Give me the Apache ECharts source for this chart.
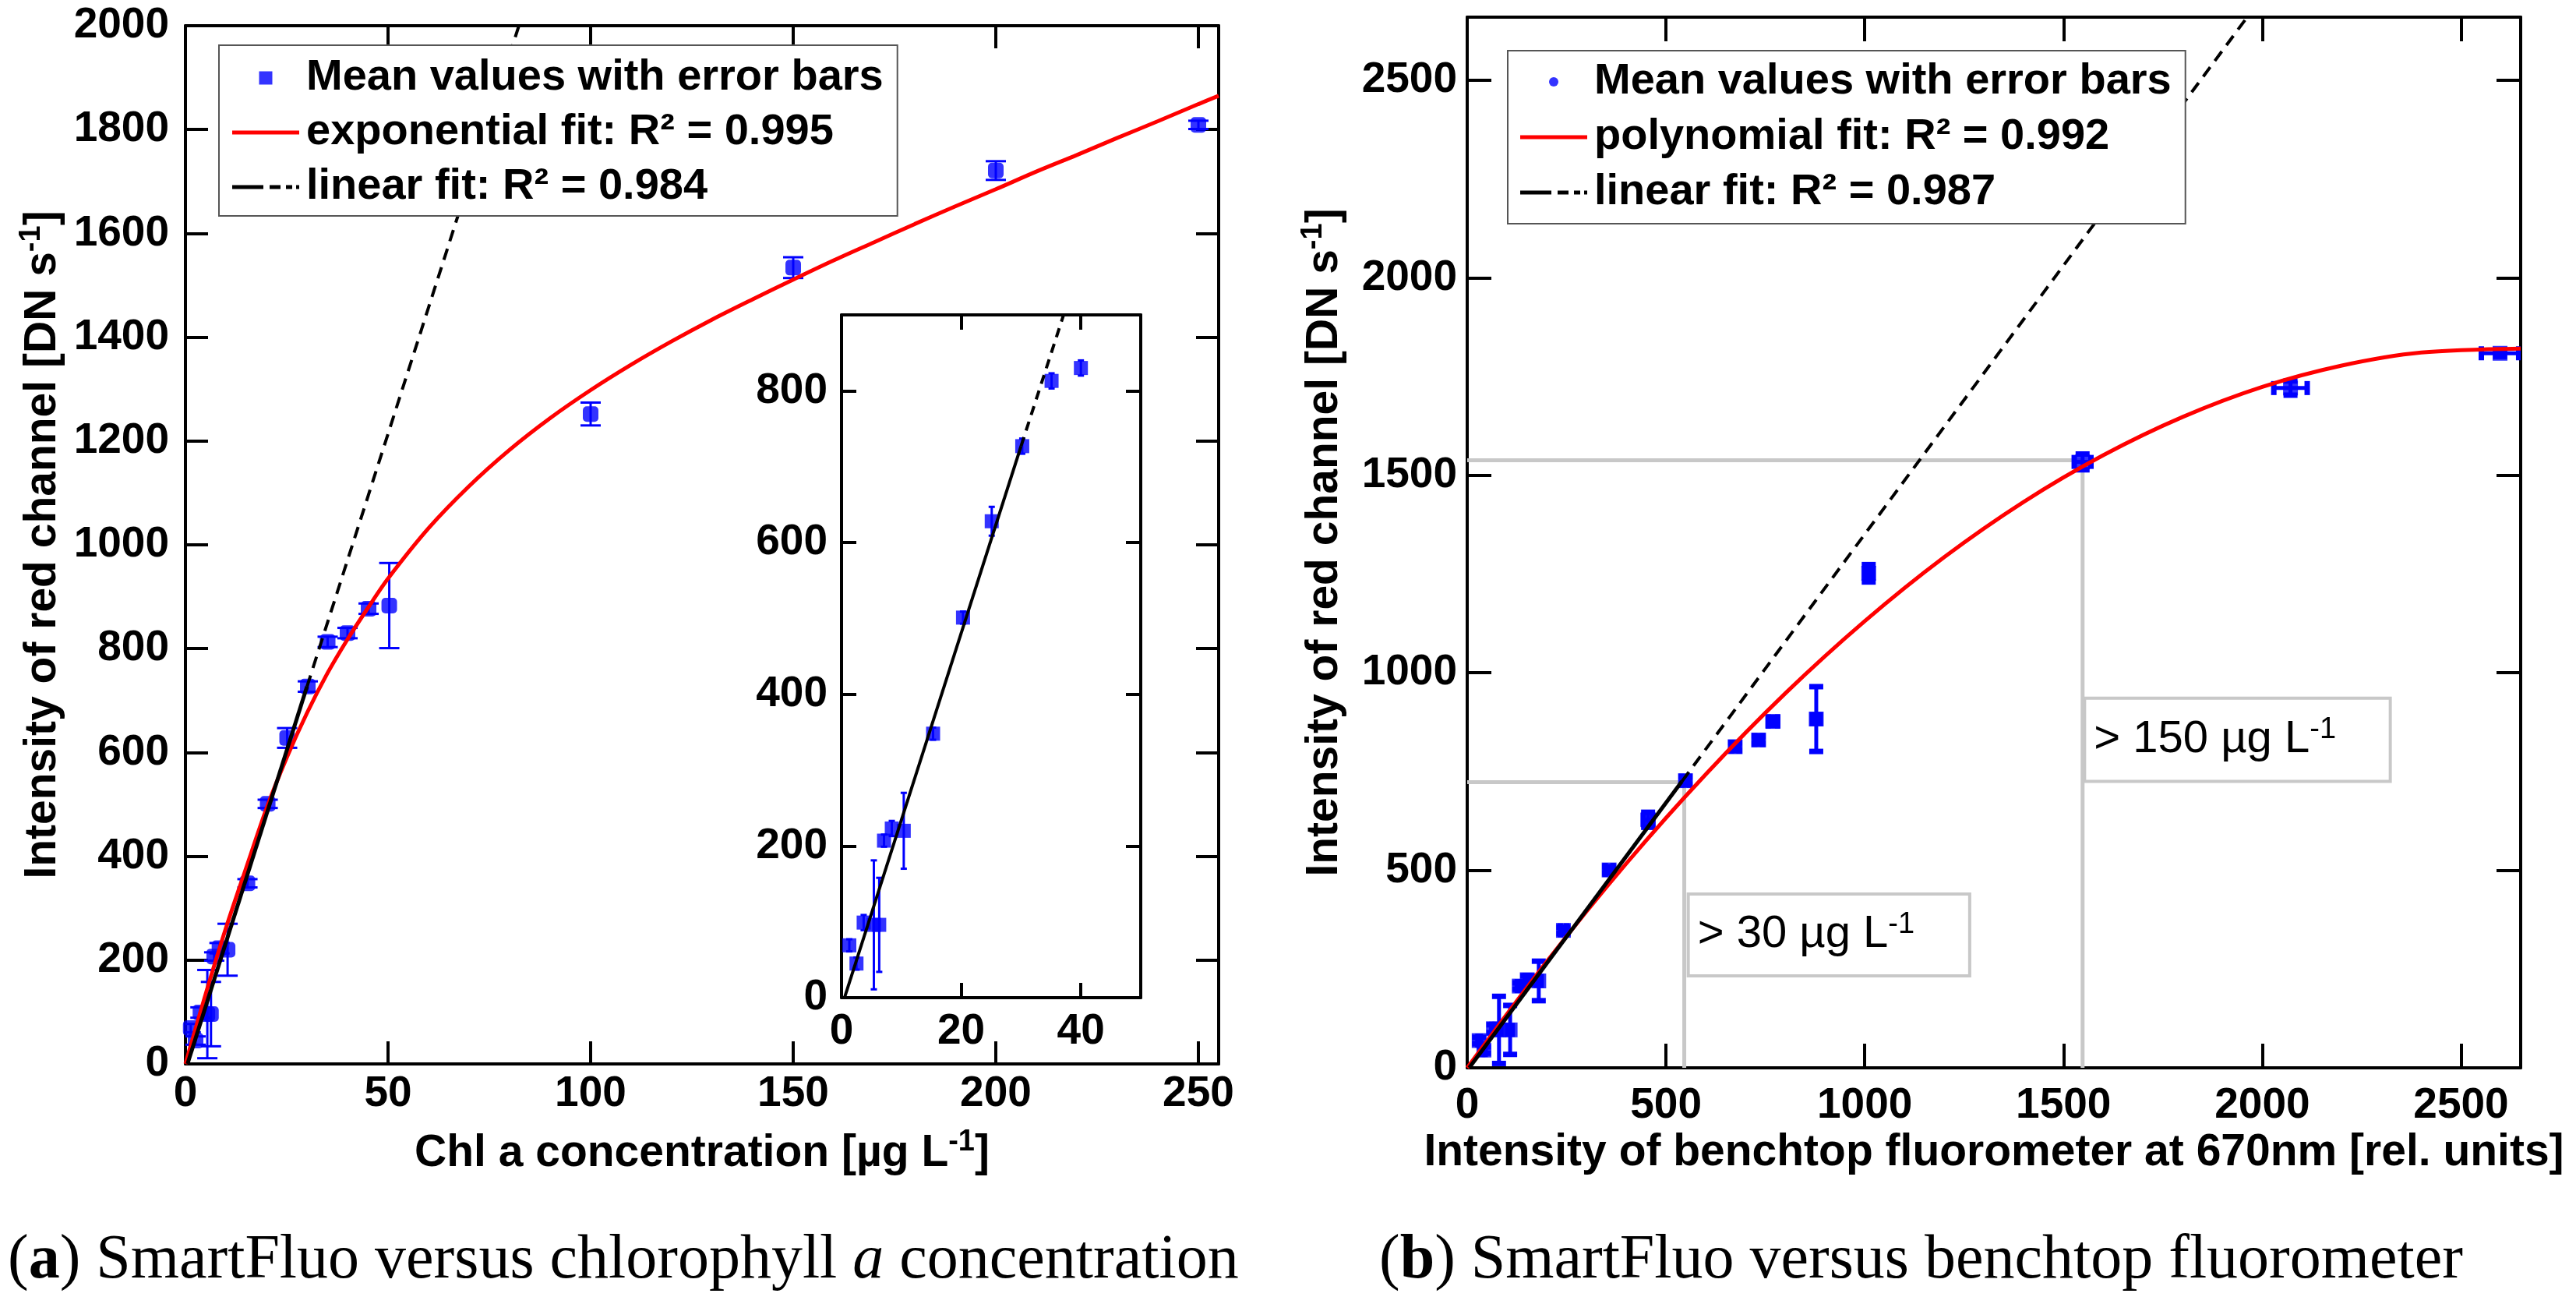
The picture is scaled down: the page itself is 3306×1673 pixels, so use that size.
<!DOCTYPE html>
<html lang="en">
<head>
<meta charset="UTF-8">
<title>SmartFluo calibration</title>
<style>
    * { margin: 0; padding: 0; }
    html, body { width: 100%; height: 100%; background: #fff; }
    #main { width: 3306px; height: 1673px; }
</style>
<script src="https://cdn.jsdelivr.net/npm/echarts/dist/echarts.min.js"></script>
</head>
<body>
<div id="main"></div>
<script>
// Chl a standards [ug/L] and SmartFluo red channel (mean / sd) [DN/s]
var chlConc = [1.3, 2.5, 3.7, 5.4, 6.3, 7.1, 8.4, 10.4, 15.3, 20.3, 25.1, 30.2, 35.1, 40, 45.2, 50.3, 100, 150, 200, 250];
var redMean = [69, 45, 99, 96, 96, 207, 223, 220, 348, 501, 628, 727, 813, 830, 877, 883, 1252, 1534, 1721, 1809];
var redErr  = [8, 8, 10, 85, 62, 8, 10, 50, 8, 8, 19, 10, 10, 10, 10, 82, 22, 20, 18, 8];
// benchtop fluorometer at 670nm for the same samples (value / sd)
var fluoVal = [30, 42, 66, 80, 108, 131, 151, 180, 242, 357, 455, 549, 674, 733, 769, 878, 1010, 1548, 2071, 2598];
var fluoErr = [3, 3, 4, 4, 5, 5, 5, 6, 8, 10, 12, 10, 10, 10, 12, 10, 10, 21, 42, 47];

// fitted curves
var expFitX = [0, 5, 10, 15, 20, 25, 30, 35, 40, 45, 50, 60, 70, 80, 90, 100, 110, 120, 130, 140, 150,
               160, 170, 180, 190, 200, 210, 220, 230, 240, 250, 255];
var expFitY = [0, 135, 262, 378, 492, 590, 676, 752, 818, 878, 935, 1032, 1113, 1183, 1244, 1298, 1347, 1392, 1434, 1473, 1511,
               1548, 1583, 1618, 1652, 1685, 1719, 1751, 1784, 1816, 1849, 1865];
var linFitAX = [0.5, 30, 82.3];   // solid up to 30, dashed beyond
var linFitAY = [0, 727, 2000];
var polyFitX = [0, 200, 400, 600, 800, 1000, 1200, 1400, 1600, 1800, 2000, 2200, 2400, 2650];
var polyFitY = [0, 269, 517, 743, 948, 1131, 1293, 1433, 1551, 1648, 1724, 1778, 1811, 1821];
var linFitBX = [5, 540, 1962];
var linFitBY = [0, 725, 2660];
// threshold guides (30 and 150 ug/L)
var guideX = [546, 1548];
var guideY = [723, 1538];

var legendText = {
    meanA: 'Mean values with error bars',
    expA: 'exponential fit: R\u00b2 = 0.995',
    linA: 'linear fit: R\u00b2 = 0.984',
    meanB: 'Mean values with error bars',
    polyB: 'polynomial fit: R\u00b2 = 0.992',
    linB: 'linear fit: R\u00b2 = 0.987'
};

var font = '"Liberation Sans", Arial, sans-serif';
var blue = '#0000ff';
var supStyle = { fontFamily: font, fontSize: 38, fontWeight: 'bold', color: '#000', verticalAlign: 'top', lineHeight: 38 };
var titleStyle = {
    fontFamily: font, fontSize: 57, fontWeight: 'bold', color: '#000', lineHeight: 66,
    rich: { sup: supStyle }
};

function pairs(xs, ys) {
    return xs.map(function (x, i) { return [x, ys[i]]; });
}

var ptsA = pairs(chlConc, redMean);
var errA = chlConc.map(function (x, i) {
    return [x, redMean[i], redMean[i] - redErr[i], redMean[i] + redErr[i]];
});
var ptsIn = ptsA.filter(function (p) { return p[0] <= 40; });
var errIn = errA.filter(function (p) { return p[0] <= 40; });
var ptsB = pairs(fluoVal, redMean);
var errB = fluoVal.map(function (x, i) {
    return [x, redMean[i], redMean[i] - redErr[i], redMean[i] + redErr[i], x - fluoErr[i], x + fluoErr[i]];
});
var expFit = pairs(expFitX, expFitY);
var linA = pairs(linFitAX, linFitAY);
var polyFit = pairs(polyFitX, polyFitY);
var linB = pairs(linFitBX, linFitBY);

function seg(x1, y1, x2, y2, w) {
    return { type: 'line', shape: { x1: x1, y1: y1, x2: x2, y2: y2 }, style: { stroke: blue, lineWidth: w } };
}

// error bars drawn in data space
function errorBars(capW, stemW, capLw, withX) {
    return function (params, api) {
        var x = api.value(0), y = api.value(1);
        var lo = api.coord([x, api.value(2)]);
        var hi = api.coord([x, api.value(3)]);
        var kids = [
            seg(lo[0], lo[1], hi[0], hi[1], stemW),
            seg(lo[0] - capW / 2, lo[1], lo[0] + capW / 2, lo[1], capLw),
            seg(hi[0] - capW / 2, hi[1], hi[0] + capW / 2, hi[1], capLw)
        ];
        if (withX) {
            var l = api.coord([api.value(4), y]);
            var r = api.coord([api.value(5), y]);
            kids.push(seg(l[0], l[1], r[0], r[1], stemW));
            kids.push(seg(l[0], l[1] - capW / 2, l[0], l[1] + capW / 2, capLw));
            kids.push(seg(r[0], r[1] - capW / 2, r[0], r[1] + capW / 2, capLw));
        }
        return { type: 'group', children: kids };
    };
}

function valAxis(o) {
    return {
        type: 'value', gridIndex: o.grid, position: o.pos,
        min: o.min, max: o.max, interval: o.step,
        name: o.name || '', nameLocation: 'middle', nameGap: o.nameGap || 0,
        nameRotate: o.rot || 0, nameMoveOverlap: false, nameTextStyle: titleStyle,
        axisLine: { show: true, onZero: false, lineStyle: { color: '#000', width: 4 } },
        axisTick: { show: true, inside: true, length: o.tick, lineStyle: { color: '#000', width: 4 } },
        axisLabel: {
            show: !!o.labels, margin: o.margin || 12, color: '#000',
            fontFamily: font, fontSize: 55, fontWeight: 'bold',
            formatter: function (v) { return v % o.step === 0 ? String(v) : ''; }
        },
        splitLine: { show: false }
    };
}

function legendBox(left, top, padding, gap, iconH, markerIcon, names, colors) {
    var lineIcon = 'path://M0,0H86V5H0Z';
    var dashIcon = 'path://M0,0H40V5H0Z M48,0H62V5H48Z M69,0H77V5H69Z M82,0H86V5H82Z';
    var icons = [markerIcon, lineIcon, dashIcon];
    return {
        orient: 'vertical', left: left, top: top, padding: padding, itemGap: gap, z: 20,
        itemWidth: 86, itemHeight: iconH, symbolKeepAspect: true, selectedMode: false,
        backgroundColor: '#fff', borderColor: '#555', borderWidth: 2, borderRadius: 0,
        textStyle: { fontFamily: font, fontSize: 56, fontWeight: 'bold', color: '#000', lineHeight: 60, padding: [0, 0, 0, 4] },
        formatter: function (n) { return legendText[n]; },
        data: names.map(function (n, i) {
            return { name: n, icon: icons[i], itemStyle: { color: colors[i], borderWidth: 0 } };
        })
    };
}

function guideSeries(i, area, text) {
    return {
        type: 'line', name: 'guide' + i, xAxisIndex: 4, yAxisIndex: 4, silent: true,
        symbol: 'none', z: 1,
        lineStyle: { color: '#c8c8c8', width: 5 },
        data: [[0, guideY[i]], [guideX[i], guideY[i]], [guideX[i], 0]],
        markArea: {
            silent: true,
            itemStyle: { color: '#fff', borderColor: '#c8c8c8', borderWidth: 4 },
            label: {
                show: true, position: 'insideLeft', distance: 14, color: '#000',
                fontFamily: font, fontSize: 58, lineHeight: 64,
                rich: { sup: { fontFamily: font, fontSize: 38, color: '#000', verticalAlign: 'top', lineHeight: 38 } },
                formatter: function () { return text; }
            },
            data: [area]
        }
    };
}

var option = {
    animation: false,
    backgroundColor: '#fff',
    grid: [
        { left: 238, top: 33, width: 1326, height: 1332, outerBoundsMode: 'none' },
        { left: 1080, top: 404, width: 384, height: 876, show: true, backgroundColor: '#fff', borderWidth: 0, outerBoundsMode: 'none' },
        { left: 1883, top: 22, width: 1352, height: 1348, outerBoundsMode: 'none' }
    ],
    xAxis: [
        valAxis({ grid: 0, pos: 'bottom', min: 0, max: 255, step: 50, tick: 29, labels: true, margin: 11,
            name: 'Chl a concentration [\u00b5g L{sup|-1}]', nameGap: 82 }),
        valAxis({ grid: 0, pos: 'top', min: 0, max: 255, step: 50, tick: 29 }),
        valAxis({ grid: 1, pos: 'bottom', min: 0, max: 50, step: 20, tick: 19, labels: true, margin: 16 }),
        valAxis({ grid: 1, pos: 'top', min: 0, max: 50, step: 20, tick: 19 }),
        valAxis({ grid: 2, pos: 'bottom', min: 0, max: 2650, step: 500, tick: 31, labels: true, margin: 21,
            name: 'Intensity of benchtop fluorometer at 670nm [rel. units]', nameGap: 76 }),
        valAxis({ grid: 2, pos: 'top', min: 0, max: 2650, step: 500, tick: 31 })
    ],
    yAxis: [
        valAxis({ grid: 0, pos: 'left', min: 0, max: 2000, step: 200, tick: 29, labels: true, margin: 21,
            name: 'Intensity of red channel [DN s{sup|-1}]', nameGap: 150, rot: 90 }),
        valAxis({ grid: 0, pos: 'right', min: 0, max: 2000, step: 200, tick: 29 }),
        valAxis({ grid: 1, pos: 'left', min: 0, max: 900, step: 200, tick: 19, labels: true, margin: 18 }),
        valAxis({ grid: 1, pos: 'right', min: 0, max: 900, step: 200, tick: 19 }),
        valAxis({ grid: 2, pos: 'left', min: 0, max: 2660, step: 500, tick: 31, labels: true, margin: 13,
            name: 'Intensity of red channel [DN s{sup|-1}]', nameGap: 150, rot: 90 }),
        valAxis({ grid: 2, pos: 'right', min: 0, max: 2660, step: 500, tick: 31 })
    ],
    legend: [
        legendBox(281, 58, [12, 18, 7, 17], 10, 17, 'path://M0,0H10V10H0Z',
            ['meanA', 'expA', 'linA'], [blue, '#ff0000', '#000']),
        legendBox(1935, 65, [10, 18, 10, 16], 11, 12, 'path://M5,0A5,5,0,1,1,5,10A5,5,0,1,1,5,0Z',
            ['meanB', 'polyB', 'linB'], [blue, '#ff0000', '#000'])
    ],
    series: [
        // (a) main panel
        { type: 'custom', name: 'errA', xAxisIndex: 0, yAxisIndex: 0, renderItem: errorBars(26, 3, 3, false),
          encode: { x: 0, y: 1 }, data: errA, clip: true, z: 2 },
        { type: 'scatter', name: 'meanA', xAxisIndex: 0, yAxisIndex: 0, symbol: 'roundRect', symbolSize: 20,
          itemStyle: { color: blue }, data: ptsA, z: 3 },
        { type: 'line', name: 'expA', xAxisIndex: 0, yAxisIndex: 0, smooth: 0.3, symbol: 'none',
          lineStyle: { color: '#ff0000', width: 5 }, itemStyle: { color: '#ff0000' }, data: expFit, z: 4 },
        { type: 'line', name: 'linA', xAxisIndex: 0, yAxisIndex: 0, symbol: 'none',
          lineStyle: { color: '#000', width: 5 }, itemStyle: { color: '#000' }, data: linA.slice(0, 2), z: 5 },
        { type: 'line', name: 'linAdash', xAxisIndex: 0, yAxisIndex: 0, symbol: 'none',
          lineStyle: { color: '#000', width: 4, type: [15, 10] }, data: linA.slice(1), z: 5 },

        // (a) inset
        { type: 'custom', name: 'errIn', xAxisIndex: 2, yAxisIndex: 2, renderItem: errorBars(8, 3, 3, false),
          encode: { x: 0, y: 1 }, data: errIn, clip: true, z: 6 },
        { type: 'scatter', name: 'meanIn', xAxisIndex: 2, yAxisIndex: 2, symbol: 'rect', symbolSize: 18,
          itemStyle: { color: blue }, data: ptsIn, z: 6 },
        { type: 'line', name: 'linIn', xAxisIndex: 2, yAxisIndex: 2, symbol: 'none',
          lineStyle: { color: '#000', width: 4 }, data: linA.slice(0, 2), z: 7 },
        { type: 'line', name: 'linInDash', xAxisIndex: 2, yAxisIndex: 2, symbol: 'none',
          lineStyle: { color: '#000', width: 4, type: [12, 9] }, data: linA.slice(1), z: 7 },

        // (b)
        guideSeries(0, [{ xAxis: 556, yAxis: 440 }, { xAxis: 1264, yAxis: 233 }], '> 30 \u00b5g L{sup|-1}'),
        guideSeries(1, [{ xAxis: 1553, yAxis: 936 }, { xAxis: 2322, yAxis: 725 }], '> 150 \u00b5g L{sup|-1}'),
        { type: 'custom', name: 'errB', xAxisIndex: 4, yAxisIndex: 4, renderItem: errorBars(18, 5, 7, true),
          encode: { x: 0, y: 1 }, data: errB, clip: true, z: 2 },
        { type: 'scatter', name: 'meanB', xAxisIndex: 4, yAxisIndex: 4, symbol: 'rect', symbolSize: 19,
          itemStyle: { color: blue }, data: ptsB, z: 3 },
        { type: 'line', name: 'polyB', xAxisIndex: 4, yAxisIndex: 4, smooth: 0.3, symbol: 'none',
          lineStyle: { color: '#ff0000', width: 5 }, itemStyle: { color: '#ff0000' }, data: polyFit, z: 4 },
        { type: 'line', name: 'linB', xAxisIndex: 4, yAxisIndex: 4, symbol: 'none',
          lineStyle: { color: '#000', width: 5 }, itemStyle: { color: '#000' }, data: linB.slice(0, 2), z: 5 },
        { type: 'line', name: 'linBdash', xAxisIndex: 4, yAxisIndex: 4, symbol: 'none',
          lineStyle: { color: '#000', width: 4, type: [15, 10] }, data: linB.slice(1), z: 5 }
    ],
    graphic: [
        {
            type: 'text', left: 10, top: 1578,
            style: {
                text: '({b|a}) SmartFluo versus chlorophyll {i|a} concentration',
                fontFamily: '"Liberation Serif", serif', fontSize: 80, fill: '#000',
                rich: {
                    b: { fontFamily: '"Liberation Serif", serif', fontSize: 80, fontWeight: 'bold' },
                    i: { fontFamily: '"Liberation Serif", serif', fontSize: 80, fontStyle: 'italic' }
                }
            }
        },
        {
            type: 'text', left: 1770, top: 1578,
            style: {
                text: '({b|b}) SmartFluo versus benchtop fluorometer',
                fontFamily: '"Liberation Serif", serif', fontSize: 80, fill: '#000',
                rich: {
                    b: { fontFamily: '"Liberation Serif", serif', fontSize: 80, fontWeight: 'bold' }
                }
            }
        }
    ]
};

var myChart = echarts.init(document.getElementById('main'));
myChart.setOption(option);
</script>
</body>
</html>
